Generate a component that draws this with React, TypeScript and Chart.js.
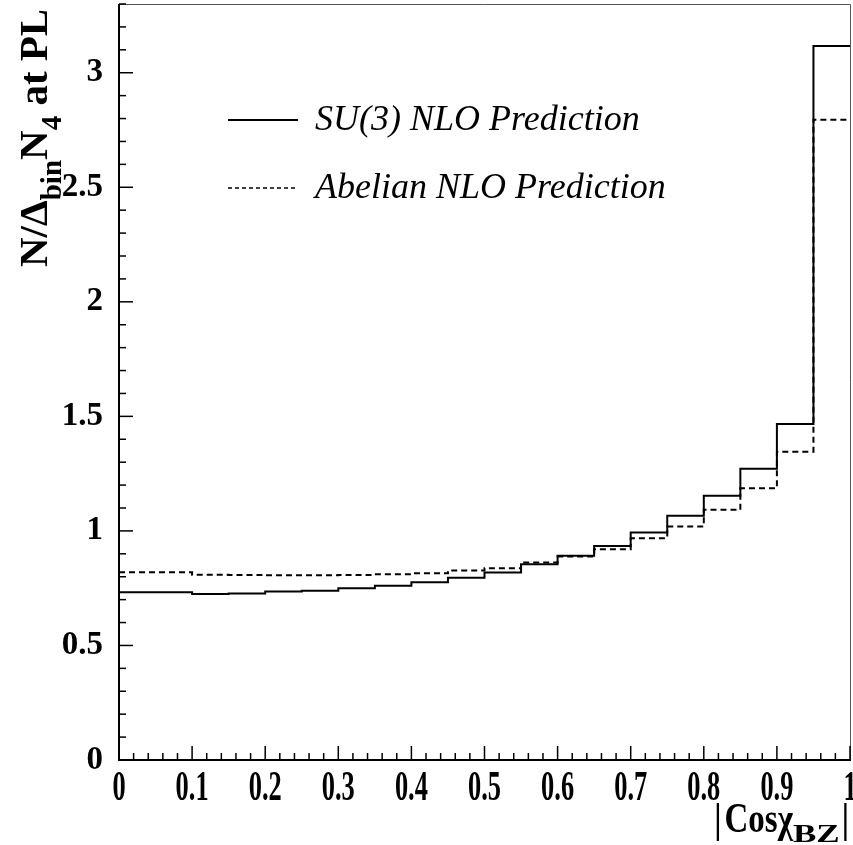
import { useEffect, useRef } from 'react';
import { Chart, registerables } from 'chart.js';

Chart.register(...registerables);

// ---- data ----
const binEdges = [0, 0.05, 0.1, 0.15, 0.2, 0.25, 0.3, 0.35, 0.4, 0.45, 0.5, 0.55, 0.6, 0.65, 0.7, 0.75, 0.8, 0.85, 0.9, 0.95, 1.0];
const su3Values = [0.732, 0.732, 0.725, 0.727, 0.735, 0.739, 0.750, 0.761, 0.776, 0.796, 0.818, 0.854, 0.892, 0.934, 0.993, 1.066, 1.153, 1.271, 1.467, 3.117];
const abelianValues = [0.819, 0.819, 0.809, 0.808, 0.806, 0.806, 0.808, 0.811, 0.815, 0.827, 0.837, 0.862, 0.888, 0.920, 0.968, 1.019, 1.092, 1.186, 1.346, 2.795];
const xTickValues = [0, 0.1, 0.2, 0.3, 0.4, 0.5, 0.6, 0.7, 0.8, 0.9, 1];
const xTickLabels = ['0', '0.1', '0.2', '0.3', '0.4', '0.5', '0.6', '0.7', '0.8', '0.9', '1'];
const yTickValues = [0, 0.5, 1, 1.5, 2, 2.5, 3];
const yTickLabels = ['0', '0.5', '1', '1.5', '2', '2.5', '3'];
const seriesLabels = ['SU(3) NLO Prediction', 'Abelian NLO Prediction'];
const X_MIN = 0;
const X_MAX = 1;
const Y_MIN = 0;
const Y_MAX = 3.3;

const SERIF = "'Liberation Serif', 'Times New Roman', serif";

function toSteps(values: number[]) {
  const pts = values.map((v, i) => ({ x: binEdges[i], y: v }));
  pts.push({ x: binEdges[values.length], y: values[values.length - 1] });
  return pts;
}

const zeroPadding = (scale: any) => {
  scale.paddingTop = 0;
  scale.paddingBottom = 0;
  scale.paddingLeft = 0;
  scale.paddingRight = 0;
};

const rootStylePlugin = {
  id: 'rootStyle',
  afterDraw(chart: any) {
    const { ctx, chartArea: a, scales } = chart;
    const xs = scales.x;
    const ys = scales.y;
    ctx.save();

    // top / right frame
    ctx.strokeStyle = '#555';
    ctx.lineWidth = 1;
    ctx.beginPath();
    ctx.moveTo(a.left, a.top + 0.5);
    ctx.lineTo(a.right + 0.5, a.top + 0.5);
    ctx.lineTo(a.right + 0.5, a.bottom);
    ctx.stroke();

    // left / bottom axes
    ctx.strokeStyle = '#000';
    ctx.lineWidth = 2;
    ctx.beginPath();
    ctx.moveTo(a.left, a.top);
    ctx.lineTo(a.left, a.bottom);
    ctx.lineTo(a.right + 1, a.bottom);
    ctx.stroke();

    // x ticks (inside, upward)
    ctx.lineWidth = 1.5;
    for (let k = 0; k <= 50; k++) {
      const v = X_MIN + ((X_MAX - X_MIN) * k) / 50;
      const px = xs.getPixelForValue(v);
      const len = k % 5 === 0 ? 14 : 7;
      ctx.beginPath();
      ctx.moveTo(px, a.bottom);
      ctx.lineTo(px, a.bottom - len);
      ctx.stroke();
    }
    // y ticks (inside, rightward)
    for (let k = 0; k <= 33; k++) {
      const v = k / 10;
      if (v > Y_MAX) break;
      const py = ys.getPixelForValue(v);
      const len = k % 5 === 0 ? 14 : 7;
      ctx.beginPath();
      ctx.moveTo(a.left, py);
      ctx.lineTo(a.left + len, py);
      ctx.stroke();
    }

    // x tick labels (ROOT-style tall glyphs)
    ctx.fillStyle = '#000';
    ctx.font = `bold 33px ${SERIF}`;
    ctx.textAlign = 'center';
    ctx.textBaseline = 'alphabetic';
    xs.ticks.forEach((t: any) => {
      const px = xs.getPixelForValue(t.value);
      ctx.save();
      ctx.translate(px, 800);
      ctx.scale(0.8, 1.25);
      ctx.fillText(String(t.label), 0, 0);
      ctx.restore();
    });

    // x axis title: |Cos chi_BZ|
    ctx.textAlign = 'left';
    const mainFont = `bold 33px ${SERIF}`;
    const subFont = `bold 26px ${SERIF}`;
    ctx.font = mainFont;
    const wBar = ctx.measureText('|').width;
    const wCos = ctx.measureText('Cos\u03C7').width;
    ctx.font = subFont;
    const wSub = ctx.measureText('BZ').width * 1.35;
    const total = wBar + 3 + wCos + wSub + 2 + wBar;
    let cx = 849 - total;
    const base = 832;
    const drawMain = (s: string, w: number) => {
      ctx.save();
      ctx.font = mainFont;
      ctx.translate(cx, base);
      ctx.scale(1, 1.3);
      ctx.fillText(s, 0, 0);
      ctx.restore();
      cx += w;
    };
    drawMain('|', wBar);
    cx += 3;
    drawMain('Cos\u03C7', wCos);
    ctx.save();
    ctx.font = subFont;
    ctx.translate(cx, 842);
    ctx.scale(1.35, 1);
    ctx.fillText('BZ', 0, 0);
    ctx.restore();
    cx += wSub + 2;
    drawMain('|', wBar);

    // y axis title: N/Δ_bin N_4 at PL (rotated)
    ctx.save();
    ctx.translate(47, 267);
    ctx.rotate(-Math.PI / 2);
    const yMain = `bold 41px ${SERIF}`;
    const ySub = `bold 29px ${SERIF}`;
    let tx = 0;
    const seg = (s: string, sub: boolean) => {
      ctx.font = sub ? ySub : yMain;
      ctx.fillText(s, tx, sub ? 14 : 0);
      tx += ctx.measureText(s).width;
    };
    seg('N/\u0394', false);
    seg('bin', true);
    seg('N', false);
    seg('4', true);
    seg(' at PL', false);
    ctx.restore();

    // legend
    const ds = chart.data.datasets;
    const legendRows = [120, 188];
    ds.forEach((d: any, i: number) => {
      const y = legendRows[i];
      ctx.save();
      ctx.strokeStyle = '#000';
      ctx.lineWidth = i === 0 ? 2 : 1.5;
      ctx.setLineDash(i === 0 ? [] : [4, 3]);
      ctx.beginPath();
      ctx.moveTo(228, y);
      ctx.lineTo(298, y);
      ctx.stroke();
      ctx.restore();
      ctx.font = `italic 36px ${SERIF}`;
      ctx.textAlign = 'left';
      ctx.textBaseline = 'middle';
      ctx.fillText(d.label, 315, y + 1);
    });

    ctx.restore();
  },
};

export default function App() {
  const canvasRef = useRef<HTMLCanvasElement | null>(null);

  useEffect(() => {
    if (!canvasRef.current) return;
    const chart = new Chart(canvasRef.current, {
      type: 'line',
      data: {
        datasets: [
          {
            label: seriesLabels[0],
            data: toSteps(su3Values),
            stepped: 'before',
            borderColor: '#000',
            borderWidth: 2,
            pointRadius: 0,
            fill: false,
          },
          {
            label: seriesLabels[1],
            data: toSteps(abelianValues),
            stepped: 'before',
            borderColor: '#000',
            borderWidth: 2,
            borderDash: [6, 4],
            pointRadius: 0,
            fill: false,
          },
        ],
      },
      options: {
        animation: false,
        responsive: false,
        maintainAspectRatio: false,
        layout: { padding: { top: 4, right: 3, left: 0, bottom: 0 } },
        plugins: {
          legend: { display: false },
          tooltip: { enabled: false },
          title: { display: false },
        },
        scales: {
          x: {
            type: 'linear',
            min: X_MIN,
            max: X_MAX,
            grid: { display: false, drawTicks: false },
            border: { display: false },
            afterBuildTicks: (scale: any) => {
              scale.ticks = xTickValues.map((v) => ({ value: v }));
            },
            afterFit: (scale: any) => {
              scale.height = 85;
              zeroPadding(scale);
            },
            ticks: {
              display: false,
              callback: (_v: any, i: number) => xTickLabels[i],
            },
          },
          y: {
            type: 'linear',
            min: Y_MIN,
            max: Y_MAX,
            grid: { display: false, drawTicks: false },
            border: { display: false },
            afterBuildTicks: (scale: any) => {
              scale.ticks = yTickValues.map((v) => ({ value: v }));
            },
            afterFit: (scale: any) => {
              scale.width = 119;
              zeroPadding(scale);
            },
            ticks: {
              color: '#000',
              padding: 16,
              font: { family: SERIF, size: 33, weight: 'bold' },
              callback: (_v: any, i: number) => yTickLabels[i],
            },
          },
        },
      },
      plugins: [rootStylePlugin],
    } as any);
    return () => chart.destroy();
  }, []);

  return (
    <div style={{ position: 'fixed', left: 0, top: 0, width: 853, height: 845, background: '#fff' }}>
      <canvas ref={canvasRef} width={853} height={845} style={{ width: 853, height: 845, display: 'block' }} />
    </div>
  );
}
